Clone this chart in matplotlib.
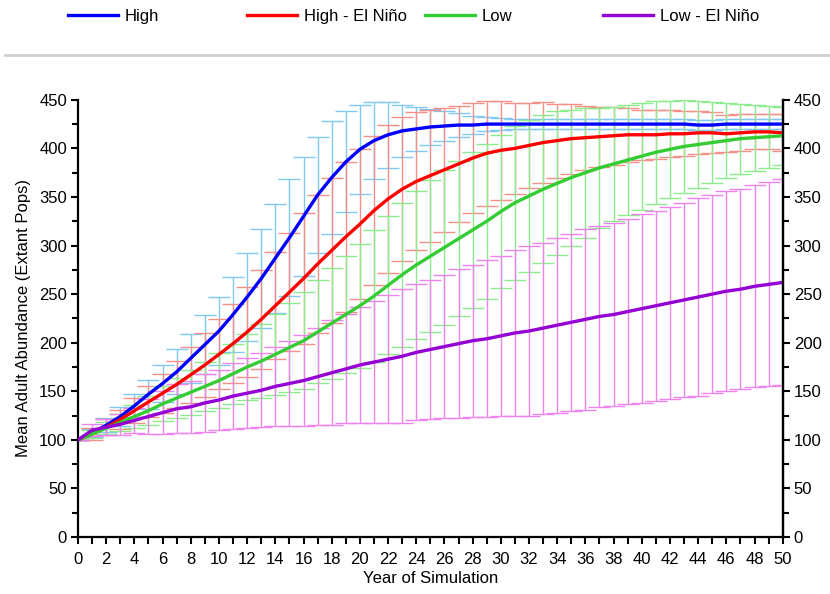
import numpy as np
import matplotlib
matplotlib.use("Agg")
import matplotlib.pyplot as plt
from matplotlib.ticker import MultipleLocator
from matplotlib.lines import Line2D

plt.rcParams['font.family'] = ['Liberation Sans', 'DejaVu Sans']

# -------------------------------------------------------------------
# Data (mean adult abundance and +/- SD, per year)
# -------------------------------------------------------------------
years = np.arange(0, 51)

high_mean = [100, 107, 115, 124, 135, 147, 158, 170, 184, 198, 212, 229, 247, 266, 287,
             308, 330, 352, 370, 386, 399, 408, 414, 418, 420, 422, 423, 424, 424, 425,
             425, 425, 425, 425, 425, 425, 425, 425, 425, 425, 425, 425, 425, 425, 424,
             424, 425, 425, 425, 425, 425]
high_sd = [0, 4, 7, 10, 12, 15, 19, 23, 25, 30, 35, 39, 45, 51, 56,
           60, 61, 60, 58, 52, 46, 40, 34, 27, 23, 19, 15, 12, 9, 7,
           6, 5, 5, 5, 5, 5, 5, 5, 5, 5, 5, 5, 5, 5, 5,
           5, 5, 5, 5, 5, 5]

high_en_mean = [100, 106, 113, 121, 130, 139, 148, 157, 167, 177, 188, 199, 211, 224, 238,
                252, 266, 281, 295, 309, 322, 336, 348, 358, 366, 372, 378, 384, 390, 395,
                398, 400, 403, 406, 408, 410, 411, 412, 413, 414, 414, 414, 415, 415, 416,
                416, 415, 416, 417, 417, 416]
high_en_sd = [0, 6, 8, 10, 13, 16, 20, 24, 29, 33, 36, 41, 46, 51, 55,
              61, 67, 71, 75, 77, 77, 77, 76, 74, 71, 68, 64, 60, 57, 54,
              51, 47, 44, 42, 38, 36, 33, 31, 30, 28, 26, 25, 24, 23, 22,
              21, 19, 19, 18, 18, 19]

low_mean = [100, 106, 112, 118, 124, 130, 137, 143, 149, 155, 161, 168, 175, 181, 188,
            195, 202, 211, 220, 229, 238, 248, 259, 270, 280, 289, 298, 307, 316, 325,
            335, 344, 351, 358, 364, 370, 375, 380, 384, 388, 392, 396, 399, 402, 404,
            406, 408, 410, 411, 412, 413]
low_sd = [0, 4, 6, 9, 12, 15, 18, 21, 23, 25, 28, 31, 34, 38, 42,
          46, 50, 53, 57, 60, 64, 68, 71, 74, 76, 78, 80, 80, 80, 80,
          79, 79, 78, 76, 74, 70, 67, 62, 59, 57, 55, 53, 50, 48, 45,
          42, 39, 36, 34, 32, 30]

low_en_mean = [100, 110, 113, 116, 120, 124, 128, 132, 134, 138, 141, 145, 148, 151, 155,
               158, 161, 165, 169, 173, 177, 180, 183, 186, 190, 193, 196, 199, 202, 204,
               207, 210, 212, 215, 218, 221, 224, 227, 229, 232, 235, 238, 241, 244, 247,
               250, 253, 255, 258, 260, 262]
low_en_sd = [0, 6, 8, 11, 13, 18, 22, 25, 27, 30, 31, 34, 36, 38, 41,
             44, 47, 50, 54, 56, 60, 63, 66, 69, 70, 72, 74, 77, 78, 81,
             82, 85, 87, 88, 90, 91, 93, 93, 94, 95, 97, 98, 99, 100, 102,
             102, 103, 103, 104, 105, 106]

labels = ["High", "High - El Niño", "Low", "Low - El Niño"]
means = [high_mean, high_en_mean, low_mean, low_en_mean]
sds = [high_sd, high_en_sd, low_sd, low_en_sd]
line_colors = ["#0000FF", "#FF0000", "#33CC33", "#9400D3"]
err_colors = ["#80C8F4", "#F49088", "#8CEB8C", "#EE82EE"]

# -------------------------------------------------------------------
# Figure
# -------------------------------------------------------------------
fig = plt.figure(figsize=(8.3, 5.94), dpi=100)
ax = fig.add_axes([0.094, 0.096, 0.849, 0.736])

# error bars first, behind the mean lines
for m, s, ec in zip(means, sds, err_colors):
    ax.errorbar(years, m, yerr=s, fmt="none", ecolor=ec, elinewidth=1.0,
                capsize=8, capthick=1.0, zorder=1)

handles = []
for m, lab, lc in zip(means, labels, line_colors):
    h, = ax.plot(years, m, color=lc, lw=2.4, label=lab, zorder=3)
    handles.append(h)

ax.set_xlim(0, 50)
ax.set_ylim(0, 450)
ax.xaxis.set_major_locator(MultipleLocator(2))
ax.xaxis.set_minor_locator(MultipleLocator(1))
ax.yaxis.set_major_locator(MultipleLocator(50))
ax.yaxis.set_minor_locator(MultipleLocator(25))

ax.spines["top"].set_visible(False)
for sp in ["left", "right", "bottom"]:
    ax.spines[sp].set_linewidth(1.6)

ax.tick_params(axis="both", which="major", direction="out", length=5, width=1.5,
               labelsize=12, colors="black", pad=3)
ax.tick_params(axis="x", which="major", pad=6)
ax.tick_params(axis="both", which="minor", direction="out", length=5, width=1.5)
ax.tick_params(axis="y", which="minor", length=4)

ax2 = ax.twinx()
ax2.set_ylim(0, 450)
ax2.yaxis.set_major_locator(MultipleLocator(50))
ax2.yaxis.set_minor_locator(MultipleLocator(25))
ax2.spines["top"].set_visible(False)
ax2.spines["left"].set_visible(False)
ax2.spines["bottom"].set_visible(False)
ax2.spines["right"].set_linewidth(1.6)
ax2.tick_params(axis="y", which="major", direction="out", length=5, width=1.5,
                labelsize=12, pad=3)
ax2.tick_params(axis="y", which="minor", direction="out", length=4, width=1.5)

ax.set_xlabel("Year of Simulation", fontsize=12, labelpad=3)
ax.set_ylabel("Mean Adult Abundance (Extant Pops)", fontsize=12, labelpad=6)

# legend entries on a fixed grid across the top
legend_x = [0.082, 0.2976, 0.512, 0.7265]
for h, x in zip(handles, legend_x):
    fig.legend(handles=[h], loc="center left", bbox_to_anchor=(x, 0.973),
               frameon=False, fontsize=12, handlelength=3.0, handletextpad=0.4,
               borderpad=0, borderaxespad=0)

# gray separator under the legend
fig.add_artist(Line2D([0.006, 1.0], [0.907, 0.907], color="#cfcfcf", lw=2))

fig.savefig("out.png", dpi=100)
